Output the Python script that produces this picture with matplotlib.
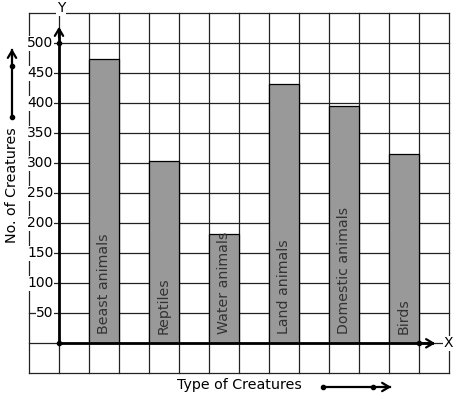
import matplotlib
matplotlib.use('Agg')
import matplotlib.pyplot as plt

# Datos del grafico
categorias = ["Beast animals", "Reptiles", "Water animals", "Land animals",
              "Domestic animals", "Birds"]
valores = [473, 303, 183, 432, 396, 315]
ticks_y = [50, 100, 150, 200, 250, 300, 350, 400, 450, 500]
posiciones = [1.5, 3.5, 5.5, 7.5, 9.5, 11.5]

# conversion de pixeles de la imagen a coordenadas de datos
def px_x(p):
    return (p - 59) / 30.0

def px_y(p):
    return (343.3 - p) / 0.6

fig = plt.figure(figsize=(4.57, 3.99), dpi=100)
ax = fig.add_axes([0, 0, 1, 1])
ax.set_xlim(px_x(0), px_x(457))
ax.set_ylim(px_y(399), px_y(0))
ax.axis('off')

# cuadricula
gris = '#222222'
for xv in range(-1, 14):
    ax.plot([xv, xv], [-50, 550], color=gris, lw=0.9, zorder=1)
for yv in range(-50, 551, 50):
    ax.plot([-1, 13], [yv, yv], color=gris, lw=0.9, zorder=1)

# barras
ax.bar(posiciones, valores, width=1.0, color='#999999', edgecolor='black',
       linewidth=0.9, zorder=2)
for x, nombre in zip(posiciones, categorias):
    ax.text(x, 16, nombre, rotation=90, ha='center', va='bottom',
            fontsize=10.2, color='#333333', zorder=3)

# ejes con flechas
ax.plot([0, 0], [0, px_y(30)], color='black', lw=2.0, zorder=4)
ax.annotate('', xy=(0, px_y(24)), xytext=(0, px_y(40)),
            arrowprops=dict(arrowstyle='->,head_length=0.5,head_width=0.3',
                            lw=1.6, color='black'), zorder=4)
ax.plot([0, px_x(432)], [0, 0], color='black', lw=2.0, zorder=4)
ax.annotate('', xy=(px_x(438), 0), xytext=(px_x(420), 0),
            arrowprops=dict(arrowstyle='->,head_length=0.5,head_width=0.3',
                            lw=1.6, color='black'), zorder=4)
ax.plot([0, 0, 12], [0, 500, 0], 'o', color='black', ms=3, zorder=5)

ax.text(px_x(61), px_y(8), 'Y', ha='center', va='center', fontsize=10,
        bbox=dict(facecolor='white', edgecolor='none', pad=0.5), zorder=5)
ax.text(px_x(448), 0, 'X', ha='center', va='center', fontsize=10,
        bbox=dict(facecolor='white', edgecolor='none', pad=0.5), zorder=5)

# etiquetas del eje Y
for t in ticks_y:
    ax.text(px_x(53.5), t, str(t), ha='right', va='center', fontsize=10,
            bbox=dict(facecolor='white', edgecolor='none', pad=0.3), zorder=3)

# titulos de ejes
ax.text(px_x(12), px_y(185), 'No. of Creatures', rotation=90, ha='center',
        va='center', fontsize=10.3)
ax.text(px_x(239), px_y(385), 'Type of Creatures', ha='center', va='center',
        fontsize=10.3)

# flechas decorativas
ax.plot([px_x(12), px_x(12)], [px_y(116.7), px_y(50)], color='black', lw=1.6)
ax.annotate('', xy=(px_x(12), px_y(46)), xytext=(px_x(12), px_y(60)),
            arrowprops=dict(arrowstyle='->,head_length=0.5,head_width=0.3',
                            lw=1.6, color='black'))
ax.plot([px_x(12), px_x(12)], [px_y(116.7), px_y(66)], 'o', color='black', ms=3)

ax.plot([px_x(323), px_x(390)], [px_y(387), px_y(387)], color='black', lw=1.6)
ax.annotate('', xy=(px_x(394), px_y(387)), xytext=(px_x(380), px_y(387)),
            arrowprops=dict(arrowstyle='->,head_length=0.5,head_width=0.3',
                            lw=1.6, color='black'))
ax.plot([px_x(323), px_x(373)], [px_y(387), px_y(387)], 'o', color='black', ms=3)

fig.savefig('out.png', dpi=100)
